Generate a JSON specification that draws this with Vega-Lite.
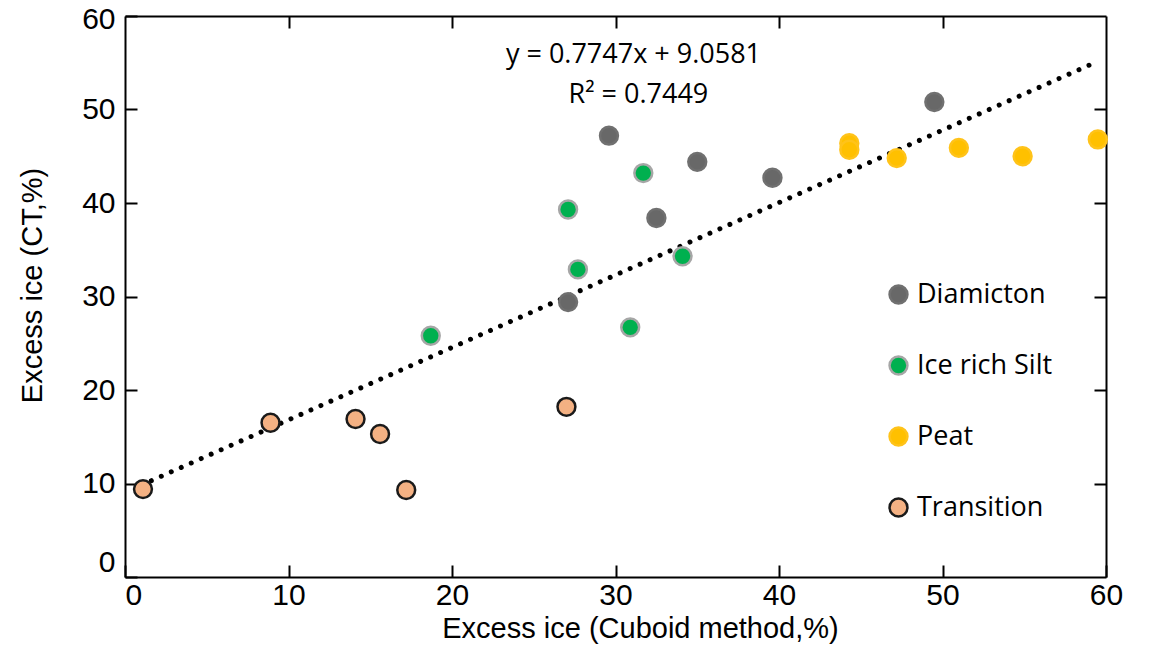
{
  "$schema": "https://vega.github.io/schema/vega-lite/v6.json",
  "width": 981,
  "height": 561,
  "autosize": {"type": "none"},
  "padding": {"left": 125, "top": 16, "right": 44, "bottom": 72},
  "background": "white",
  "config": {
    "view": {"stroke": null},
    "axis": {
      "domainColor": "black", "domainWidth": 2, "tickColor": "black", "tickWidth": 2,
      "labelFont": "Liberation Sans", "labelFontSize": 30, "labelColor": "black",
      "titleFont": "Liberation Sans", "titleFontSize": 29, "titleFontWeight": "normal", "titleColor": "black",
      "grid": false
    }
  },
  "datasets": {
    "points": [
      {"x": 1.1, "y": 9.4, "type": "Transition"},
      {"x": 8.9, "y": 16.5, "type": "Transition"},
      {"x": 14.1, "y": 16.9, "type": "Transition"},
      {"x": 15.6, "y": 15.3, "type": "Transition"},
      {"x": 17.2, "y": 9.3, "type": "Transition"},
      {"x": 27.0, "y": 18.2, "type": "Transition"},
      {"x": 18.7, "y": 25.8, "type": "Ice rich Silt"},
      {"x": 27.1, "y": 39.3, "type": "Ice rich Silt"},
      {"x": 27.7, "y": 32.9, "type": "Ice rich Silt"},
      {"x": 31.7, "y": 43.2, "type": "Ice rich Silt"},
      {"x": 34.1, "y": 34.3, "type": "Ice rich Silt"},
      {"x": 30.9, "y": 26.7, "type": "Ice rich Silt"},
      {"x": 29.6, "y": 47.2, "type": "Diamicton"},
      {"x": 35.0, "y": 44.4, "type": "Diamicton"},
      {"x": 32.5, "y": 38.4, "type": "Diamicton"},
      {"x": 27.1, "y": 29.4, "type": "Diamicton"},
      {"x": 39.6, "y": 42.7, "type": "Diamicton"},
      {"x": 49.5, "y": 50.8, "type": "Diamicton"},
      {"x": 44.3, "y": 46.4, "type": "Peat"},
      {"x": 44.3, "y": 45.7, "type": "Peat"},
      {"x": 47.2, "y": 44.8, "type": "Peat"},
      {"x": 51.0, "y": 45.9, "type": "Peat"},
      {"x": 54.9, "y": 45.0, "type": "Peat"},
      {"x": 59.5, "y": 46.8, "type": "Peat"}
    ],
    "trend": [
      {"x": 1.0, "y": 9.83},
      {"x": 59.5, "y": 55.15}
    ],
    "notes": [
      {"x": 31.1, "y": 55.8, "label": "y = 0.7747x + 9.0581"},
      {"x": 31.4, "y": 51.5, "label": "R² = 0.7449"}
    ]
  },
  "resolve": {"axis": {"x": "independent", "y": "independent"}},
  "layer": [
    {
      "data": {"name": "trend"},
      "mark": {"type": "line", "color": "black", "strokeWidth": 5, "strokeCap": "round", "strokeDash": [0.01, 10.9]},
      "encoding": {
        "x": {"field": "x", "type": "quantitative", "scale": {"domain": [0, 60], "nice": false, "zero": false},
              "axis": {"orient": "top", "values": [10, 20, 30, 40, 50], "labels": false, "title": null, "tickSize": -12}},
        "y": {"field": "y", "type": "quantitative", "scale": {"domain": [0, 60], "nice": false, "zero": false},
              "axis": {"orient": "right", "values": [10, 20, 30, 40, 50], "labels": false, "title": null, "tickSize": -12}}
      }
    },
    {
      "data": {"name": "points"},
      "mark": {"type": "point", "shape": "circle", "filled": true, "size": 320, "strokeWidth": 2.5, "opacity": 1},
      "encoding": {
        "x": {"field": "x", "type": "quantitative",
              "axis": {"orient": "bottom", "values": [0, 10, 20, 30, 40, 50, 60], "tickSize": -12, "labelPadding": 15,
                       "labelAlign": {"condition": {"test": "datum.value === 0", "value": "left"}, "value": "center"},
                       "title": "Excess ice (Cuboid method,%)", "titleX": 515, "titleY": 51, "titleBaseline": "middle", "titleAlign": "center"}},
        "y": {"field": "y", "type": "quantitative",
              "axis": {"orient": "left", "values": [0, 10, 20, 30, 40, 50, 60], "tickSize": -12, "labelPadding": 22,
                       "labelBaseline": {"condition": {"test": "datum.value === 0", "value": "bottom"}, "value": "middle"},
                       "labelOffset": {"condition": {"test": "datum.value === 60", "value": 3}, "value": 0},
                       "title": "Excess ice (CT,%)", "titleX": -93, "titleY": 269, "titleAngle": -90, "titleBaseline": "middle", "titleAlign": "center"}},
        "fill": {"field": "type", "type": "nominal",
                 "scale": {"domain": ["Diamicton", "Ice rich Silt", "Peat", "Transition"], "range": ["#686868", "#00b04f", "#ffc000", "#f4b183"]},
                 "legend": {"orient": "none", "legendX": 760, "legendY": 265, "title": null, "padding": 0,
                            "symbolType": "circle", "symbolSize": 320, "symbolStrokeWidth": 2.5, "labelFont": "Open Sans", "labelFontSize": 27,
                            "labelColor": "black", "labelOffset": 5, "rowPadding": 42}},
        "stroke": {"field": "type", "type": "nominal",
                   "scale": {"domain": ["Diamicton", "Ice rich Silt", "Peat", "Transition"], "range": ["#707070", "#a6a6a6", "#ffc31a", "#1a1a1a"]},
                   "legend": {"orient": "none", "legendX": 760, "legendY": 265, "title": null, "padding": 0,
                              "symbolType": "circle", "symbolSize": 320, "symbolStrokeWidth": 2.5, "labelFont": "Open Sans", "labelFontSize": 27,
                              "labelColor": "black", "labelOffset": 5, "rowPadding": 42}}
      }
    },
    {
      "data": {"name": "notes"},
      "mark": {"type": "text", "font": "Open Sans", "fontSize": 27, "color": "black", "align": "center", "baseline": "middle"},
      "encoding": {
        "x": {"field": "x", "type": "quantitative", "axis": null},
        "y": {"field": "y", "type": "quantitative", "axis": null},
        "text": {"field": "label", "type": "nominal"}
      }
    }
  ]
}
